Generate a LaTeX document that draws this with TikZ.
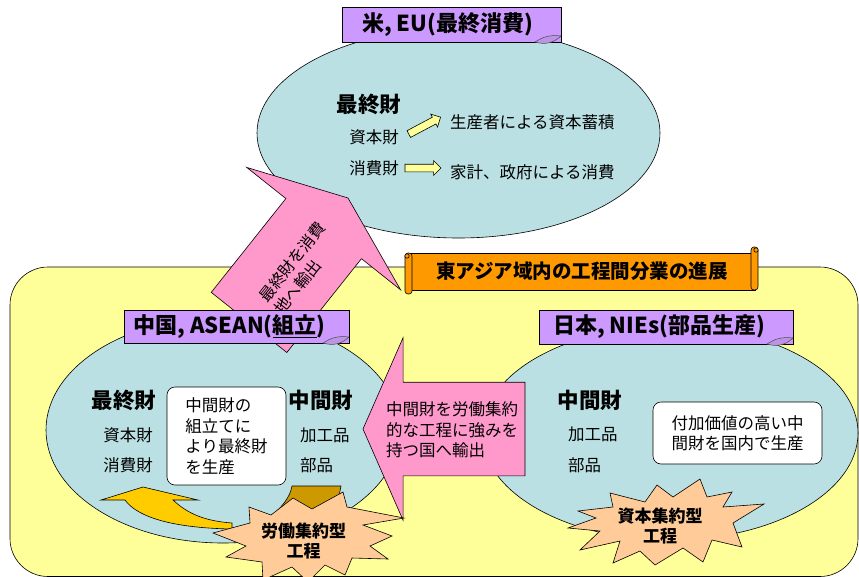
\documentclass[tikz,border=0pt]{standalone}
\usepackage{fontspec}
\setmainfont{Noto Sans CJK JP}
\usetikzlibrary{positioning, arrows.meta, shapes.geometric, shapes.arrows}

\definecolor{skyfill}{RGB}{187,224,227}
\definecolor{paleyellow}{RGB}{255,255,153}
\definecolor{lilac}{RGB}{204,153,255}
\definecolor{bannerorange}{RGB}{255,153,0}
\definecolor{rosepink}{RGB}{255,153,204}
\definecolor{peach}{RGB}{255,204,153}
\definecolor{gold}{RGB}{255,204,0}
\definecolor{darkgold}{RGB}{204,153,0}

\begin{document}
\begin{tikzpicture}[
		x=1pt, y=-1pt,
		% Define styles
		base/.style={draw=black, line width=0.6pt, inner sep=0pt, outer sep=0pt},
		region/.style={base, ellipse, fill=skyfill},
		tag/.style={base, rectangle, fill=lilac, font=\fontsize{22}{26}\selectfont\bfseries},
		banner/.style={base, rectangle, fill=bannerorange, font=\fontsize{19.5}{23}\selectfont\bfseries},
		head/.style={inner sep=0pt, font=\fontsize{21.5}{26}\selectfont\bfseries},
		item/.style={inner sep=0pt, font=\fontsize{16.5}{20.5}\selectfont},
		note/.style={base, rounded corners=8pt, fill=white, align=left, font=\fontsize{16.5}{20.5}\selectfont},
		flow/.style={base, single arrow, fill=paleyellow, inner ysep=3.5pt, minimum height=36, minimum width=14, single arrow head extend=3.5, single arrow tip angle=90},
		export/.style={base, single arrow, fill=rosepink},
		burst/.style={base, fill=peach},
		bursttext/.style={inner sep=0pt, align=center, font=\fontsize{17}{19.5}\selectfont\bfseries},
		curl/.style={draw=black!70, line width=0.5pt, fill=lilac!80!gray}
		]
		
		\useasboundingbox (0,0) rectangle (859,576);
		\fill[white] (0,0) rectangle (859,576);
		
		% 1. East Asia area
		\draw[base, fill=paleyellow, rounded corners=38] (10,267) rectangle (858,576.5);
		
		% 2. Final consumers (top)
		\node[region, minimum width=403, minimum height=210] (usa) at (458.5,133) {};
		\node[head] (usa-final) at (369,104) {最終財};
		\node[item] (usa-capital) at (374,137) {資本財};
		\node[item] (usa-consumer) at (374,168) {消費財};
		\node[flow, rotate=28] (capital-flow) at (423,126.5) {};
		\node[flow, right=6pt of usa-consumer] (consumer-flow) {};
		\node[item, anchor=west] (usa-invest) at (450,122) {生産者による資本蓄積};
		\node[item, anchor=west] (usa-spend) at (450,172) {家計、政府による消費};
		
		% 3. Assembly and parts regions
		\node[region, minimum width=354, minimum height=226] (asean) at (223,430) {};
		\node[region, minimum width=376, minimum height=214] (nies) at (670,433) {};
		
		% Parts exported to labour intensive countries
		\node[export, shape border rotate=180, inner ysep=46.5pt, minimum height=162, minimum width=182,
		single arrow head extend=44.5, single arrow tip angle=132.6, anchor=tip] (parts-export) at (363,429) {};
		\node[item, align=left, anchor=west] (parts-export-text) at (386,430) {中間財を労働集約\\的な工程に強みを\\持つ国へ輸出};
		
		% China, ASEAN contents
		\node[head] (asean-final) at (124,400) {最終財};
		\node[item] (asean-capital) at (128,435) {資本財};
		\node[item] (asean-consumer) at (128,465) {消費財};
		\node[note, minimum width=119, minimum height=98] (assembly) at (226.5,436) {中間財の\\組立てに\\より最終財\\を生産};
		\node[head] (asean-inter) at (321,400) {中間財};
		\node[item, anchor=west] (asean-processed) at (300,435) {加工品};
		\node[item, anchor=west] (asean-parts) at (300,465) {部品};
		
		% Japan, NIEs contents
		\node[head] (nies-inter) at (590,400) {中間財};
		\node[item, anchor=west] (nies-processed) at (568,434) {加工品};
		\node[item, anchor=west] (nies-parts) at (568,465) {部品};
		\node[note, minimum width=169, minimum height=62] (high-value) at (737.5,433) {付加価値の高い中\\間財を国内で生産};
		
		% Curved arrow (back and front)
		\draw[base, fill=darkgold] (292,486) -- (341,486) -- (339,496) -- (312,510)
		.. controls (290,522) and (270,528) .. (255,530)
		.. controls (275,515) and (290,500) .. (292,486) -- cycle;
		\draw[base, fill=gold] (101,500) -- (143,487) -- (198,500) -- (173,500)
		.. controls (188,514) and (205,521) .. (232,523) -- (232,529)
		.. controls (175,528) and (138,518) .. (125,500) -- cycle;
		
		% 4. Process bursts
		\draw[burst] (213,533) -- (250,523) -- (249,507) -- (271,515) -- (293,498) -- (312,509)
		-- (343,492) -- (347,507) -- (404,518) -- (363,525) -- (392,536) -- (370,546)
		-- (388,559) -- (352,558) -- (345,575) -- (325,565) -- (308,582) -- (292,567)
		-- (263,580) -- (262,562) -- (226,557) -- (246,546) -- cycle;
		\node[bursttext] (labour-burst) at (303.5,541) {労働集約型\\工程};
		
		\draw[burst] (610,493) -- (645,502) -- (657,485) -- (673,497) -- (700,479) -- (707,497)
		-- (732,492) -- (723,507) -- (764,504) -- (733,523) -- (742,547) -- (712,540)
		-- (703,562) -- (683,548) -- (655,565) -- (640,551) -- (613,563) -- (620,541)
		-- (580,550) -- (600,531) -- (568,528) -- (596,518) -- (578,511) -- (613,507) -- cycle;
		\node[bursttext] (capital-burst) at (660,526) {資本集約型\\工程};
		
		% Final goods exported to consumers
		\node[export, rotate=51.5, inner ysep=48pt, minimum height=159, minimum width=196,
		single arrow head extend=50, single arrow tip angle=136.6, anchor=tip] (final-export) at (348,198) {};
		\node[item, rotate=51.5, align=left, font=\fontsize{16}{20}\selectfont] (final-export-text) at (300,268) {最終財を消費\\地へ輸出};
		
		% 5. Banner
		\node[banner, minimum width=346, minimum height=37] (trend) at (582,271.5) {東アジア域内の工程間分業の進展};
		\draw[base, fill=bannerorange, rounded corners=3pt] ([xshift=-4pt]trend.north west) rectangle ++(7,41);
		\draw[base, fill=bannerorange] ([xshift=-2pt, yshift=-3pt]trend.north west) circle (2.2);
		\draw[base, fill=bannerorange, rounded corners=3pt] ([xshift=3pt]trend.south east) rectangle ++(-7,-43);
		\draw[base, fill=bannerorange] ([xshift=1pt, yshift=3pt]trend.north east) circle (2.2);
		
		% 6. Region tags
		\node[tag, minimum width=219, minimum height=35] (usa-tag) at (451.5,24.5) {米, EU(最終消費)\hspace*{8pt}};
		\node[tag, minimum width=225, minimum height=33] (asean-tag) at (236.5,326.5) {中国, ASEAN(\underline{組立})\hspace*{14pt}};
		\node[tag, minimum width=254, minimum height=34] (nies-tag) at (666,327) {日本, NIEs(部品生産)\hspace*{14pt}};
		\draw[curl] ([xshift=-26pt]usa-tag.south east) to[bend left=20] ([yshift=6pt]usa-tag.south east) to[bend left=30] cycle;
		\draw[curl] ([xshift=-26pt]asean-tag.south east) to[bend left=20] ([yshift=6pt]asean-tag.south east) to[bend left=30] cycle;
		\draw[curl] ([xshift=-26pt]nies-tag.south east) to[bend left=20] ([yshift=6pt]nies-tag.south east) to[bend left=30] cycle;
		
	\end{tikzpicture}
\end{document}
